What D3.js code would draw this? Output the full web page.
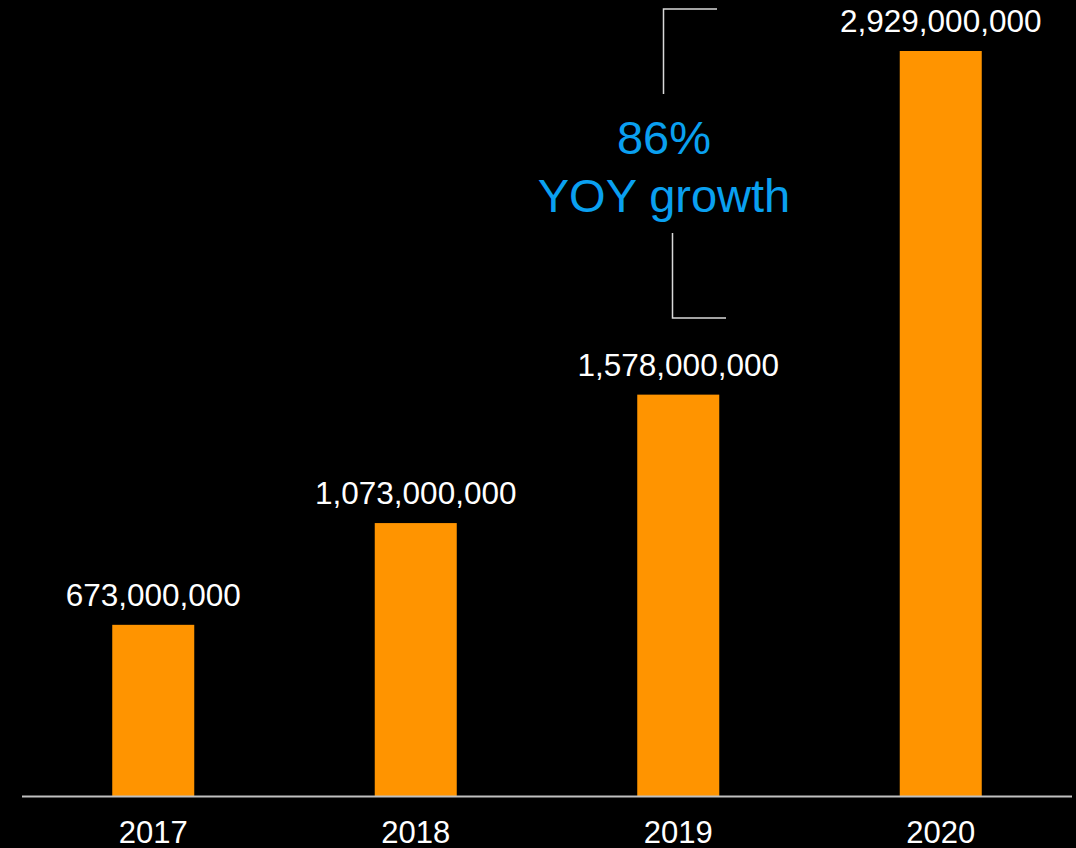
<!DOCTYPE html>
<html>
<head>
<meta charset="utf-8">
<script src="https://cdn.jsdelivr.net/npm/d3@7"></script>
<style>
  html, body { margin: 0; padding: 0; background: #000; }
  svg { display: block; }
  text { font-family: "Liberation Sans", Arial, sans-serif; }
</style>
</head>
<body>
<svg id="chart" width="1076" height="848"></svg>
<script>
// Yearly totals
const years = ["2017", "2018", "2019", "2020"];
const totals = [673000000, 1073000000, 1578000000, 2929000000];
const growthLines = ["86%", "YOY growth"];

const W = 1076, H = 848;
const baseY = 796;
const svg = d3.select("#chart");

svg.append("rect").attr("width", W).attr("height", H).attr("fill", "#000");

const x = d3.scaleBand()
  .domain(years)
  .range([22, 1072])
  .paddingInner(0.6876)
  .paddingOuter(0.3438);

const y = d3.scaleLinear()
  .domain([0, d3.max(totals)])
  .range([baseY, 51]);

const data = years.map((yr, i) => ({ yr, v: totals[i] }));
const fmt = d3.format(",");

// Bars
svg.append("g").selectAll("rect")
  .data(data)
  .join("rect")
  .attr("x", d => x(d.yr))
  .attr("y", d => y(d.v))
  .attr("width", x.bandwidth())
  .attr("height", d => y(0) - y(d.v))
  .attr("fill", "#ff9400");

// Value labels above bars
svg.append("g").selectAll("text")
  .data(data)
  .join("text")
  .attr("x", d => x(d.yr) + x.bandwidth() / 2)
  .attr("y", d => y(d.v) - 19)
  .attr("text-anchor", "middle")
  .attr("fill", "#fff")
  .attr("font-size", 31.5)
  .text(d => fmt(d.v));

// Category axis
const axis = svg.append("g")
  .attr("transform", `translate(0,${baseY + 0.5})`)
  .call(d3.axisBottom(x).tickSize(0).tickPadding(0));
axis.select(".domain").attr("stroke", "#c0c0c0").attr("stroke-width", 2)
  .attr("d", "M22,0H1072");
axis.selectAll(".tick text")
  .attr("fill", "#fff")
  .attr("font-size", 31)
  .attr("font-family", "Liberation Sans, Arial, sans-serif")
  .attr("dy", null)
  .attr("y", 46);

// Growth annotation with brackets
const ann = svg.append("g");
ann.append("path")
  .attr("d", "M717,9H663.5V94")
  .attr("fill", "none").attr("stroke", "#d9d9d9").attr("stroke-width", 1.5);
ann.append("path")
  .attr("d", "M672.5,233V318H726")
  .attr("fill", "none").attr("stroke", "#d9d9d9").attr("stroke-width", 1.5);
ann.selectAll("text")
  .data(growthLines)
  .join("text")
  .attr("x", 664)
  .attr("y", (d, i) => 154 + i * 58)
  .attr("text-anchor", "middle")
  .attr("fill", "#0aa0f0")
  .attr("font-size", 47)
  .text(d => d);
</script>
</body>
</html>
